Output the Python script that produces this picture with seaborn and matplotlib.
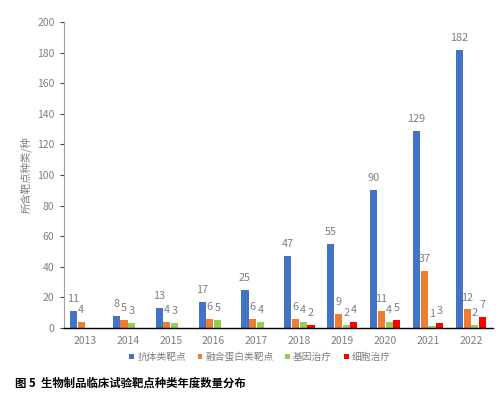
import matplotlib
matplotlib.use("Agg")
import matplotlib.pyplot as plt
import seaborn as sns
import pandas as pd

years = ["2013", "2014", "2015", "2016", "2017", "2018", "2019", "2020", "2021", "2022"]
series_names = ["抗体类靶点", "融合蛋白类靶点", "基因治疗", "细胞治疗"]
antibody = [11, 8, 13, 17, 25, 47, 55, 90, 129, 182]
fusion = [4, 5, 4, 6, 6, 6, 9, 11, 37, 12]
gene = [0, 3, 3, 5, 4, 4, 2, 4, 1, 2]
cell = [0, 0, 0, 0, 0, 2, 4, 5, 3, 7]
colors = ["#4472C4", "#ED7D31", "#92D050", "#FF0000"]
yticks = [0, 20, 40, 60, 80, 100, 120, 140, 160, 180, 200]
ylabel = "所含靶点种类/种"
title = "图 5  生物制品临床试验靶点种类年度数量分布"

rows = []
for name, vals in zip(series_names, [antibody, fusion, gene, cell]):
    for y, v in zip(years, vals):
        rows.append({"year": y, "value": v, "series": name})
df = pd.DataFrame(rows)

sns.set_theme(style="white")
plt.rcParams["font.family"] = ["Noto Sans CJK SC", "DejaVu Sans"]

fig = plt.figure(figsize=(5.0, 3.94), dpi=100)
ax = fig.add_axes([0.127, 0.168, 0.858, 0.776])

sns.barplot(data=df, x="year", y="value", hue="series", order=years,
            hue_order=series_names, palette=colors, width=0.72, gap=0.08,
            ax=ax, legend=True, saturation=1, linewidth=0)

gray = "#7f7f7f"
for cont in ax.containers:
    labels = [str(int(b.get_height())) if b.get_height() > 0 else "" for b in cont]
    ax.bar_label(cont, labels=labels, padding=5, fontsize=7.8, color=gray)

ax.set_ylim(0, 200)
ax.set_yticks(yticks)
ax.set_xlim(-0.5, len(years) - 0.5)
ax.set_xlabel("")
ax.set_ylabel(ylabel, fontsize=7.5, color=gray, labelpad=4)
ax.tick_params(axis="y", labelsize=7.5, colors=gray, length=3, width=0.8,
               direction="out", left=True)
ax.tick_params(axis="y", which="major", color="#404040")
ax.tick_params(axis="x", labelsize=7.5, colors=gray, length=0, pad=6)
for sp in ["top", "right"]:
    ax.spines[sp].set_visible(False)
ax.spines["left"].set_color("#a0a0a0")
ax.spines["left"].set_linewidth(0.8)
ax.spines["bottom"].set_color("#000000")
ax.spines["bottom"].set_linewidth(1.0)
ax.grid(False)

handles, labs = ax.get_legend_handles_labels()
ax.get_legend().remove()
fig.legend(handles, labs, loc="center", bbox_to_anchor=(0.52, 0.094), ncol=4,
           frameon=False, fontsize=7, handlelength=0.5, handleheight=0.5,
           handletextpad=0.3, columnspacing=1.2, labelcolor=gray)

fig.text(0.03, 0.027, title, fontsize=8.2, fontweight="bold", color="#000000",
         ha="left", va="center")

fig.savefig("out.png", dpi=100)
